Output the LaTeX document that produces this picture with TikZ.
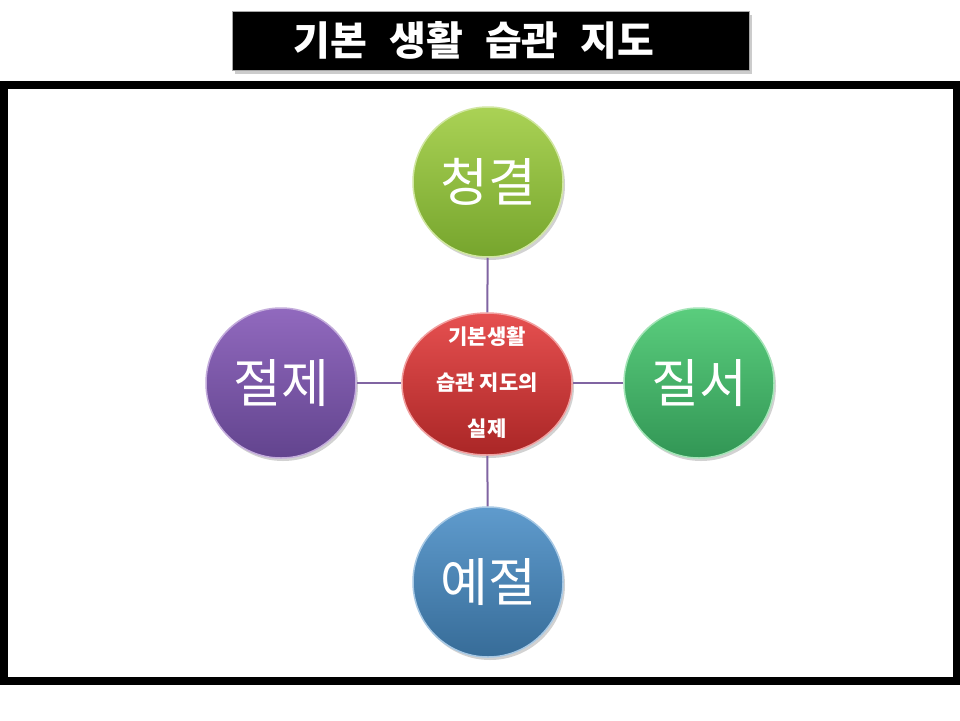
\documentclass[tikz,border=0pt]{standalone}
\usepackage{fontspec}
\newfontfamily\kr{Noto Sans CJK KR}
\usetikzlibrary{shadows,shapes.geometric}
\definecolor{conncol}{RGB}{128,100,162}
\definecolor{gtop}{RGB}{170,210,85}\definecolor{gbot}{RGB}{118,165,45}
\definecolor{ptop}{RGB}{145,105,190}\definecolor{pbot}{RGB}{98,68,142}
\definecolor{rtop}{RGB}{90,205,125}\definecolor{rbot}{RGB}{50,150,85}
\definecolor{btop}{RGB}{95,155,205}\definecolor{bbot}{RGB}{55,108,152}
\definecolor{etop}{RGB}{230,80,80}\definecolor{ebot}{RGB}{170,38,38}
\tikzset{
  ball/.style 2 args={circle, minimum size=150pt, inner sep=0pt,
    top color=#1, bottom color=#2, draw=#1!55!white, line width=1.5pt,
    drop shadow={opacity=0.35, shadow xshift=2pt, shadow yshift=-3pt},
    text=white, font=\kr\fontsize{52}{56}\selectfont},
  conn/.style={draw=conncol, line width=2pt},
  frame/.style={draw=black, line width=7.5pt},
  titlebox/.style={rectangle, minimum width=517pt, minimum height=59pt, fill=black,
    draw=gray!70, line width=1.2pt, drop shadow={opacity=0.4, shadow xshift=2pt, shadow yshift=-3pt}},
  titletext/.style={text=white, font=\kr\bfseries\fontsize{40}{44}\selectfont},
  centerell/.style={ellipse, minimum width=170pt, minimum height=142pt, inner sep=0pt,
    top color=etop, bottom color=ebot, draw=etop!55!white, line width=1.5pt,
    drop shadow={opacity=0.35, shadow xshift=2pt, shadow yshift=-3pt}},
  centertext/.style={align=center, text=white, font=\kr\bfseries\fontsize{21}{46}\selectfont}
}
\begin{document}
\begin{tikzpicture}[x=1pt,y=-1pt]
\useasboundingbox (0,0) rectangle (960,720);
\fill[white] (0,0) rectangle (960,720);
\node[titlebox] (title) at (491,41) {};
\node[titletext] (ttext) at (474,40) {기본\hspace{0.55em}생활\hspace{0.55em}습관\hspace{0.55em}지도};
\draw[frame] (3.75,85) rectangle (956.25,681);
\node[centerell] (center) at (487,384) {};
\node[centertext] (ctext) at (487,383) {기본생활\\습관 지도의\\실제};
\node[ball={gtop}{gbot}] (top) at (488,182) {청결};
\node[ball={ptop}{pbot}] (left) at (281,383) {절제};
\node[ball={rtop}{rbot}] (right) at (699,383) {질서};
\node[ball={btop}{bbot}] (bottom) at (488,582) {예절};
\draw[conn] (top) -- (center);
\draw[conn] (left.east) -- (left.east -| center.west);
\draw[conn] (right.west) -- (right.west -| center.east);
\draw[conn] (bottom) -- (center);
\end{tikzpicture}
\end{document}
